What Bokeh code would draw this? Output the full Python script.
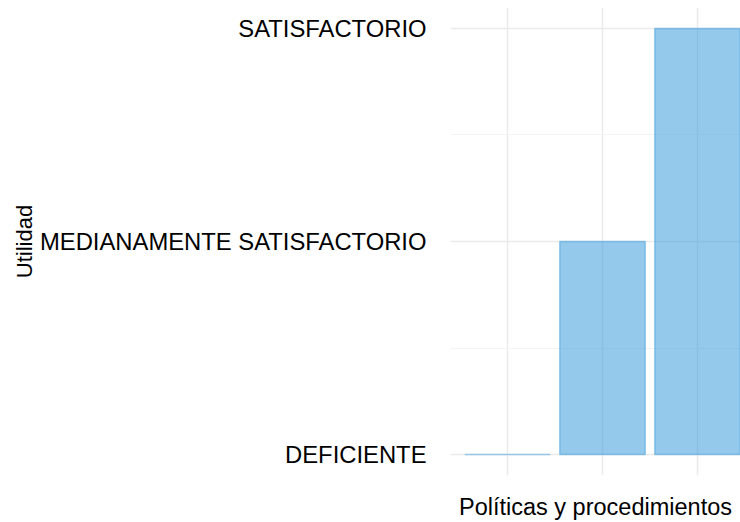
from bokeh.plotting import figure
from bokeh.models import FixedTicker, ColumnDataSource
from bokeh.embed import file_html
from bokeh.resources import INLINE

# data
categories = ["1", "2", "3"]
levels = ["DEFICIENTE", "MEDIANAMENTE SATISFACTORIO", "SATISFACTORIO"]
responses = ["DEFICIENTE", "MEDIANAMENTE SATISFACTORIO", "SATISFACTORIO"]
x_title = "Políticas y procedimientos"
y_title = "Utilidad"

xs = [i + 1 for i in range(len(categories))]
tops = [levels.index(r) + 1 for r in responses]
bottoms = [1] * len(responses)
src = ColumnDataSource(dict(x=xs, top=tops, bottom=bottoms))

FONT = "Liberation Sans"

p = figure(width=740, height=522, output_backend="svg", toolbar_location=None,
           x_range=(0.4, 0.4 + 290 / 95), y_range=(0.9017, 3.0984),
           min_border_left=450, min_border_right=0, min_border_top=7,
           min_border_bottom=46)
p.outline_line_color = None
p.background_fill_color = "white"
p.border_fill_color = "white"

p.vbar(x="x", top="top", bottom="bottom", width=0.9, source=src,
       fill_color="#3498DB", fill_alpha=0.52,
       line_color="#3498DB", line_alpha=0.45, line_width=1.5)

# x axis: no ticks/labels, only grid and title
p.xaxis.ticker = FixedTicker(ticks=xs)
p.xaxis.axis_line_color = None
p.xaxis.major_tick_line_color = None
p.xaxis.minor_tick_line_color = None
p.xaxis.major_tick_out = 0
p.xaxis.minor_tick_out = 0
p.xaxis.major_label_text_font_size = "0px"
p.xaxis.major_label_standoff = 0
p.xaxis.major_label_overrides = {x: "" for x in xs}
p.xaxis.axis_label = x_title
p.xaxis.axis_label_text_font = FONT
p.xaxis.axis_label_text_font_size = "23.5px"
p.xaxis.axis_label_text_font_style = "normal"
p.xaxis.axis_label_text_color = "black"
p.xaxis.axis_label_standoff = 18
p.xgrid.grid_line_color = "#EBEBEB"
p.xgrid.grid_line_width = 1.5

# y axis
yt = FixedTicker(ticks=[1, 2, 3], minor_ticks=[1.5, 2.5])
p.yaxis.ticker = yt
p.yaxis.major_label_overrides = {i + 1: lab for i, lab in enumerate(levels)}
p.yaxis.axis_line_color = None
p.yaxis.major_tick_line_color = None
p.yaxis.minor_tick_line_color = None
p.yaxis.major_tick_out = 0
p.yaxis.minor_tick_out = 0
p.yaxis.major_label_standoff = 24
p.yaxis.major_label_text_font = FONT
p.yaxis.major_label_text_font_size = "23.8px"
p.yaxis.major_label_text_color = "black"
p.yaxis.axis_label = y_title
p.yaxis.axis_label_text_font = FONT
p.yaxis.axis_label_text_font_size = "22px"
p.yaxis.axis_label_text_font_style = "normal"
p.yaxis.axis_label_text_color = "black"
p.yaxis.axis_label_standoff = 0

p.ygrid.grid_line_color = "#EBEBEB"
p.ygrid.grid_line_width = 1.5
p.ygrid.minor_grid_line_color = "#F4F4F4"
p.ygrid.minor_grid_line_width = 1

open("out.html", "w").write(file_html(p, INLINE))
